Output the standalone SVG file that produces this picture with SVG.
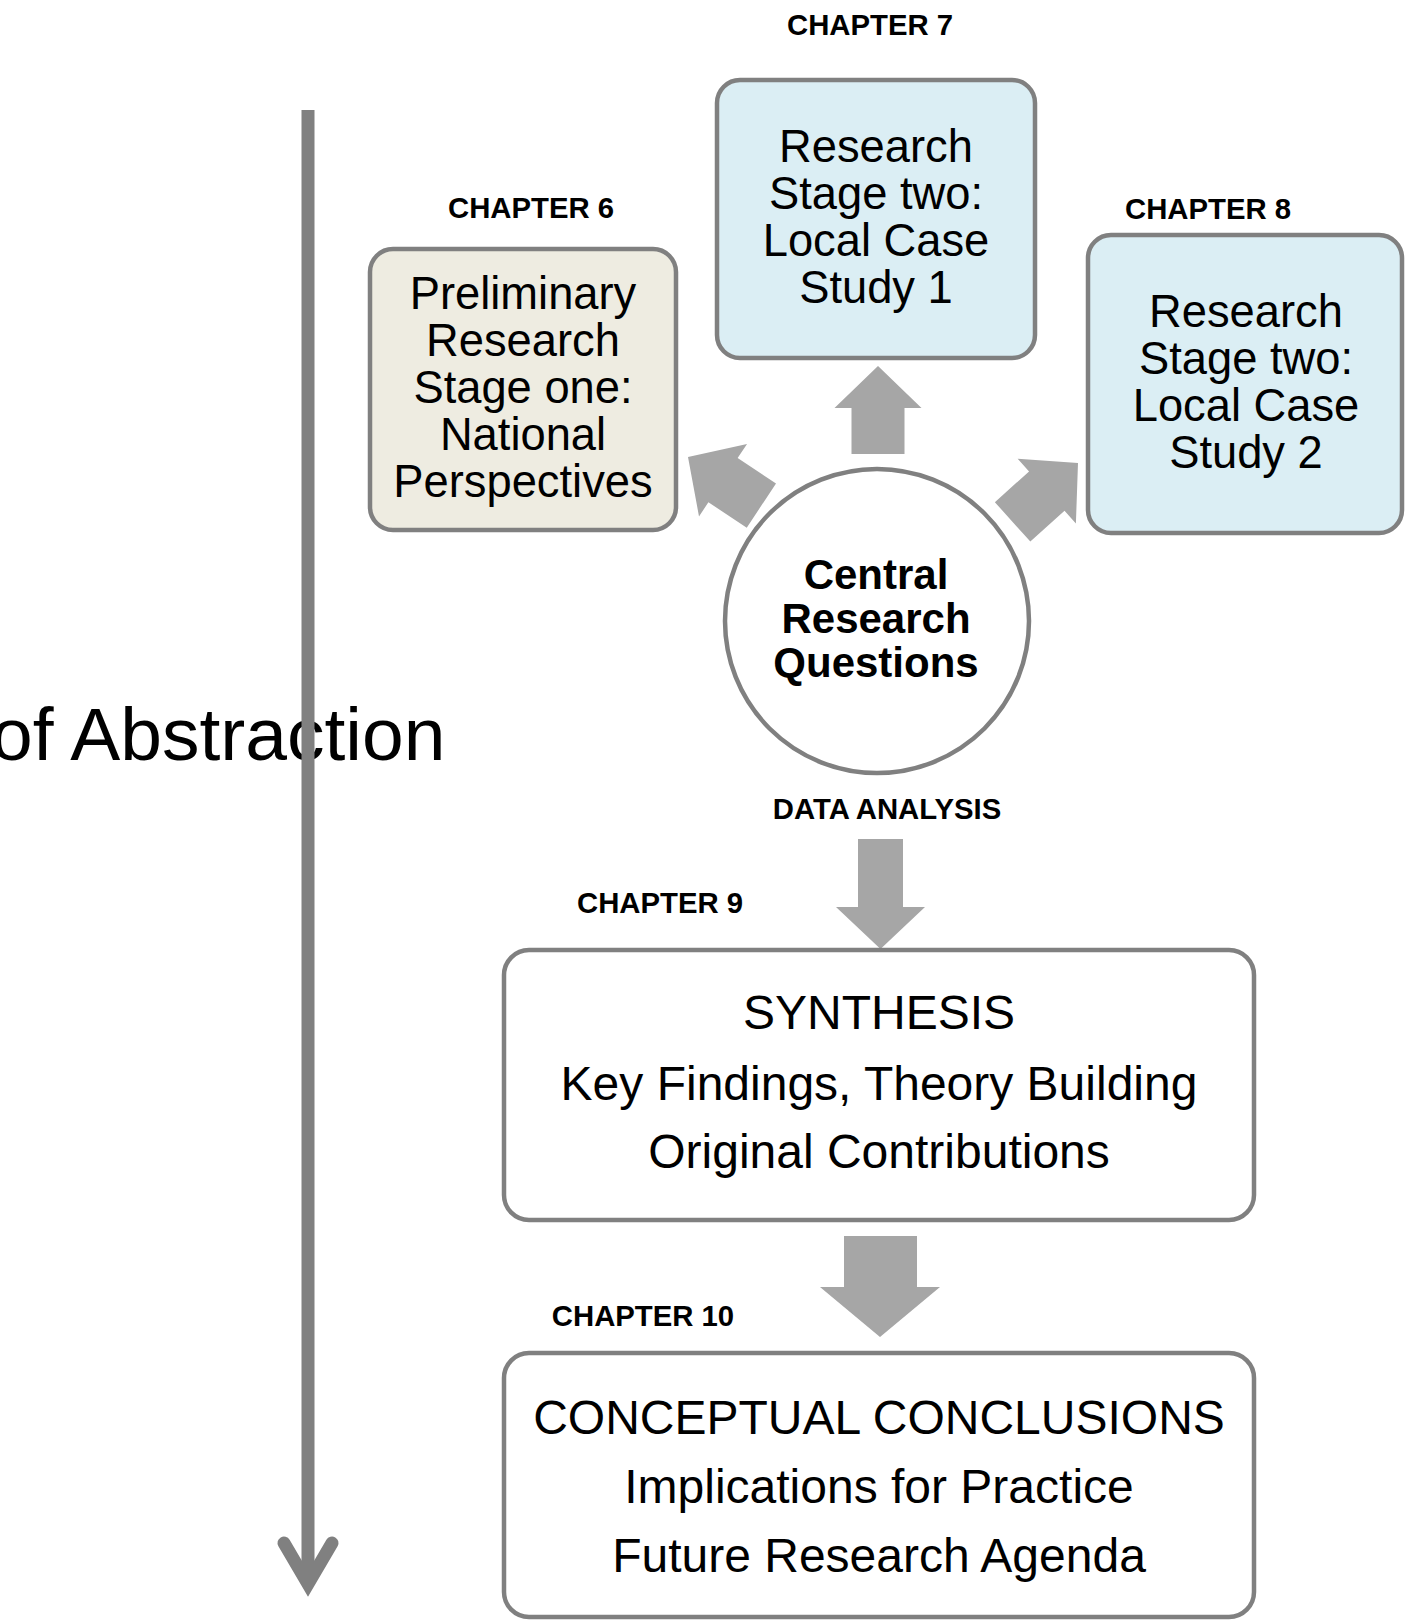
<svg xmlns="http://www.w3.org/2000/svg" width="1405" height="1621" viewBox="0 0 1405 1621">
  <style>
    .box { stroke: #808080; stroke-width: 4.5; }
    .stage1 { fill: #eeece1; }
    .stage2 { fill: #dbeef4; }
    .plain { fill: #ffffff; }
    .chap { font-family: "Liberation Sans", Arial, sans-serif; font-weight: bold; font-size: 29.3px; fill: #000; text-anchor: middle; }
    .node { font-family: "Liberation Sans", Arial, sans-serif; font-size: 45.3px; fill: #000; text-anchor: middle; }
    .big { font-family: "Liberation Sans", Arial, sans-serif; font-size: 48px; fill: #000; text-anchor: middle; }
    .core { font-family: "Liberation Sans", Arial, sans-serif; font-weight: bold; font-size: 42px; fill: #000; text-anchor: middle; }
    .flow { fill: #a6a6a6; }
  </style>
  <defs>
    <!-- block arrow pointing up, tip at origin -->
    <polygon id="blockArrow" points="0,0 43.5,42 26.5,42 26.5,88 -26.5,88 -26.5,42 -43.5,42"/>
  </defs>

  <rect width="1405" height="1621" fill="#ffffff"/>

  <!-- axis label (runs off the left edge) -->
  <text x="-9" y="760" font-family="'Liberation Sans', Arial, sans-serif" font-size="75" fill="#000">of Abstraction</text>

  <!-- abstraction axis -->
  <g id="axis" fill="none" stroke="#808080" stroke-width="13">
    <line x1="308" y1="110" x2="308" y2="1584"/>
    <polyline points="284,1543 308,1584 332,1543" stroke-linecap="round" stroke-linejoin="miter"/>
  </g>

  <!-- chapter labels -->
  <g id="labels">
    <text class="chap" x="870" y="35">CHAPTER 7</text>
    <text class="chap" x="531" y="218">CHAPTER 6</text>
    <text class="chap" x="1208" y="219">CHAPTER 8</text>
    <text class="chap" x="887" y="819">DATA ANALYSIS</text>
    <text class="chap" x="660" y="913">CHAPTER 9</text>
    <text class="chap" x="643" y="1326">CHAPTER 10</text>
  </g>

  <!-- connectors -->
  <g id="connectors" class="flow">
    <use href="#blockArrow" transform="translate(878,366)"/>
    <use href="#blockArrow" transform="translate(688,457) rotate(-56.5)"/>
    <use href="#blockArrow" transform="translate(1078,463) rotate(48)"/>
    <polygon points="858,839 903,839 903,907 925,907 880.5,949 836,907 858,907"/>
    <polygon points="844,1236 917,1236 917,1287 940,1287 880,1337 820,1287 844,1287"/>
  </g>

  <g id="stage1-national">
    <rect class="box stage1" x="370" y="249" width="306" height="281" rx="23"/>
    <text class="node" x="523" y="309">Preliminary</text>
    <text class="node" x="523" y="356">Research</text>
    <text class="node" x="523" y="403">Stage one:</text>
    <text class="node" x="523" y="450">National</text>
    <text class="node" x="523" y="497">Perspectives</text>
  </g>

  <g id="stage2-case1">
    <rect class="box stage2" x="717" y="80" width="318" height="278" rx="23"/>
    <text class="node" x="876" y="162">Research</text>
    <text class="node" x="876" y="209">Stage two:</text>
    <text class="node" x="876" y="256">Local Case</text>
    <text class="node" x="876" y="303">Study 1</text>
  </g>

  <g id="stage2-case2">
    <rect class="box stage2" x="1088" y="235" width="314" height="298" rx="23"/>
    <text class="node" x="1246" y="327">Research</text>
    <text class="node" x="1246" y="374">Stage two:</text>
    <text class="node" x="1246" y="421">Local Case</text>
    <text class="node" x="1246" y="468">Study 2</text>
  </g>

  <g id="central-questions">
    <circle class="box plain" cx="877" cy="621" r="152"/>
    <text class="core" x="876" y="589">Central</text>
    <text class="core" x="876" y="633">Research</text>
    <text class="core" x="876" y="677">Questions</text>
  </g>

  <g id="synthesis">
    <rect class="box plain" x="504" y="950" width="750" height="270" rx="25"/>
    <text class="big" x="879" y="1029">SYNTHESIS</text>
    <text class="big" x="879" y="1100">Key Findings, Theory Building</text>
    <text class="big" x="879" y="1168">Original Contributions</text>
  </g>

  <g id="conclusions">
    <rect class="box plain" x="504" y="1353" width="750" height="264" rx="25"/>
    <text class="big" x="879" y="1434">CONCEPTUAL CONCLUSIONS</text>
    <text class="big" x="879" y="1503">Implications for Practice</text>
    <text class="big" x="879" y="1572">Future Research Agenda</text>
  </g>
</svg>
